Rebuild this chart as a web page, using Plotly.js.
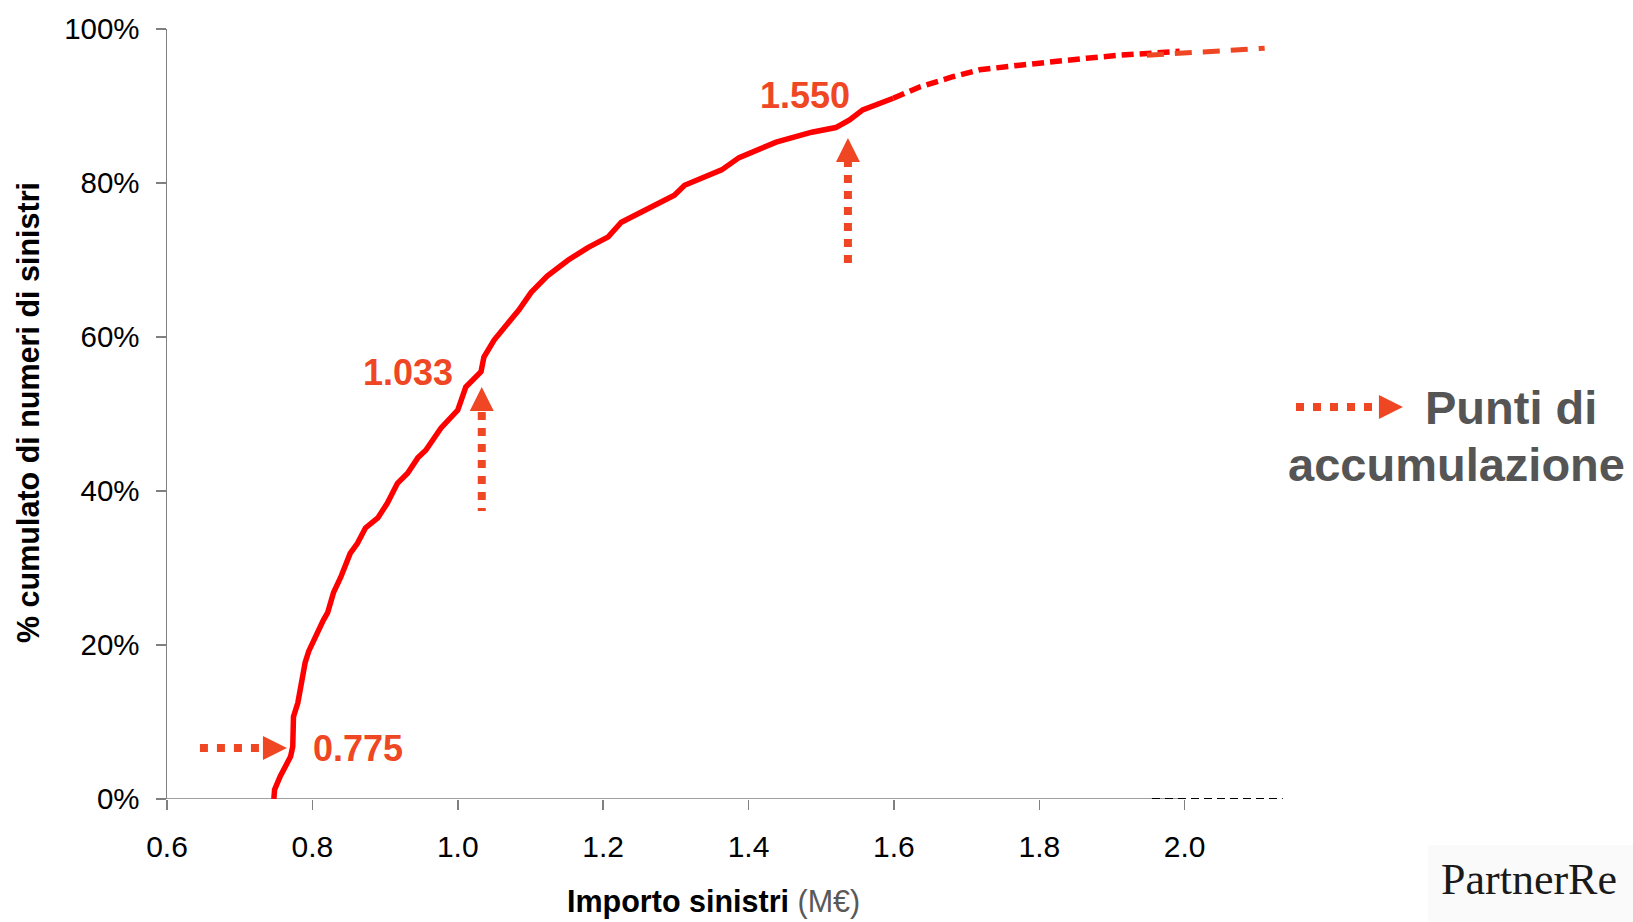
<!DOCTYPE html>
<html><head><meta charset="utf-8">
<script src="https://cdn.plot.ly/plotly-3.0.1.min.js"></script>
<style>html,body{margin:0;padding:0;background:#fff}#chart{width:1633px;height:922px}</style>
</head><body><div id="chart"></div>
<script>
// Cumulative distribution of claim amounts (M€) – main solid part
const claimAmount = [0.747,0.748,0.756,0.765,0.770,0.773,0.774,0.780,0.783,0.786,0.790,0.795,0.800,0.808,0.815,0.821,0.829,0.839,0.846,0.852,0.862,0.873,0.890,0.903,0.917,0.931,0.945,0.956,0.977,1.000,1.011,1.025,1.032,1.036,1.050,1.069,1.084,1.101,1.123,1.152,1.179,1.207,1.225,1.252,1.270,1.298,1.312,1.345,1.363,1.387,1.438,1.487,1.520,1.539,1.557,1.599];
const cumShare    = [0.000,0.012,0.030,0.044,0.055,0.068,0.107,0.125,0.142,0.160,0.177,0.192,0.203,0.219,0.232,0.242,0.268,0.288,0.305,0.319,0.332,0.352,0.365,0.384,0.410,0.423,0.443,0.453,0.482,0.505,0.535,0.548,0.555,0.574,0.596,0.618,0.635,0.658,0.679,0.700,0.716,0.730,0.749,0.762,0.771,0.784,0.797,0.810,0.817,0.833,0.853,0.866,0.872,0.882,0.895,0.910];
// sparse upper tail
const tailAmount = [1.599,1.636,1.681,1.718,1.773,1.819,1.865,1.911,1.956,1.993];
const tailShare  = [0.910,0.925,0.938,0.947,0.953,0.958,0.962,0.966,0.969,0.971];
// dashed extrapolation
const extAmount = [1.948,2.110];
const extShare  = [0.966,0.975];
// dashed baseline at 0%
const baseAmount = [1.955,2.135];
const baseShare  = [0,0];

const xTickVals = [0.6,0.8,1.0,1.2,1.4,1.6,1.8,2.0];
const xTickText = ['0.6','0.8','1.0','1.2','1.4','1.6','1.8','2.0'];
const yTickVals = [0,0.2,0.4,0.6,0.8,1.0];
const yTickText = ['0%','20%','40%','60%','80%','100%'];

const accumLabels = ['0.775','1.033','1.550'];

const FONT = 'Liberation Sans, Arial, sans-serif';
const ORANGE = '#EF4623';
const RED = '#FF0000';

const traces = [
  {x: claimAmount, y: cumShare, mode:'lines', line:{color:RED, width:5.5}, hoverinfo:'skip'},
  {x: tailAmount, y: tailShare, mode:'lines', line:{color:RED, width:5.5, dash:'12px,6px'}, hoverinfo:'skip'},
  {x: extAmount, y: extShare, mode:'lines', line:{color:ORANGE, width:5, dash:'17px,11px'}, hoverinfo:'skip'},
  {x: baseAmount, y: baseShare, mode:'lines', line:{color:'#000', width:2, dash:'8px,5px'}, hoverinfo:'skip'}
];

function upArrow(xv, yTip, yDotTop, yDotBot){
  return [
    {type:'line', xref:'x', yref:'y', x0:xv, x1:xv, y0:yDotTop, y1:yDotBot, line:{color:ORANGE, width:8, dash:'8px,8px'}},
    {type:'path', xref:'x', yref:'y', xsizemode:'pixel', ysizemode:'pixel', xanchor:xv, yanchor:yTip,
     path:'M 0 0 L -12 -24 L 12 -24 Z', fillcolor:ORANGE, line:{width:0}}
  ];
}
function rightArrow(xref, yref, xDotL, xDotR, xTip, yv){
  return [
    {type:'line', xref:xref, yref:yref, x0:xDotL, x1:xDotR, y0:yv, y1:yv, line:{color:ORANGE, width:8, dash:'8px,9px'}},
    {type:'path', xref:xref, yref:yref, xsizemode:'pixel', ysizemode:'pixel', xanchor:xTip, yanchor:yv,
     path:'M 0 0 L -24 12 L -24 -12 Z', fillcolor:ORANGE, line:{width:0}}
  ];
}

const shapes = [
  {type:'line', xref:'x', yref:'y', x0:0.6, x1:2.0, y0:0, y1:0, line:{color:'#808080', width:1.5}, layer:'below'},
  {type:'rect', xref:'paper', yref:'paper', x0:1.112, x1:1.3, y0:-0.06, y1:-0.2, fillcolor:'#FAFAFA', line:{width:0}, layer:'below'},
  ...rightArrow('x','y', 0.6453, 0.7320, 0.7650, 0.0662),
  ...upArrow(1.033, 0.535, 0.5234, 0.3740),
  ...upArrow(1.5367, 0.8584, 0.8312, 0.6961),
  ...rightArrow('paper','paper', 0.9956, 1.0700, 1.0899, 0.509)
];

const C = {xanchor:'center', yanchor:'middle', showarrow:false};
const annotations = [
  {...C, xref:'x', yref:'y', x:0.8627, y:0.0662, text:'<b>'+accumLabels[0]+'</b>', font:{family:FONT, size:36, color:ORANGE}},
  {...C, xref:'x', yref:'y', x:0.9315, y:0.5545, text:'<b>'+accumLabels[1]+'</b>', font:{family:FONT, size:36, color:ORANGE}},
  {...C, xref:'x', yref:'y', x:1.478, y:0.913, text:'<b>'+accumLabels[2]+'</b>', font:{family:FONT, size:36, color:ORANGE}},
  {...C, xref:'x', yref:'y', x:0.721, y:-0.0377, text:'0.75', font:{family:FONT, size:26, color:'#595959'}},
  {...C, xref:'paper', yref:'paper', x:1.1076, y:0.509, xanchor:'left', text:'<b>Punti di</b>', font:{family:FONT, size:47, color:'#555555'}},
  {...C, xref:'paper', yref:'paper', x:0.987, y:0.434, xanchor:'left', text:'<b>accumulazione</b>', font:{family:FONT, size:47, color:'#555555'}},
  {...C, xref:'paper', yref:'paper', x:0.4815, y:-0.133, text:'<b>Importo sinistri</b> <span style="color:#595959">(M€)</span>', font:{family:FONT, size:30.5, color:'#000'}},
  {...C, xref:'paper', yref:'paper', x:-0.1226, y:0.5026, textangle:-90, text:'<b>% cumulato di numeri di sinistri</b>', font:{family:FONT, size:30.5, color:'#000'}},
  {...C, xref:'paper', yref:'paper', x:1.201, y:-0.105, text:'PartnerRe', font:{family:'Liberation Serif, Times New Roman, serif', size:44, color:'#1a1a1a'}}
];

const layout = {
  width:1633, height:922,
  margin:{l:167, r:332, t:29, b:123, pad:0},
  paper_bgcolor:'#fff', plot_bgcolor:'#fff',
  showlegend:false,
  font:{family:FONT, color:'#000'},
  xaxis:{range:[0.6,2.16], tickvals:xTickVals, ticktext:xTickText, ticks:'outside', ticklen:10, tickwidth:1.5, tickcolor:'#808080',
         showline:false, showgrid:false, zeroline:false, tickfont:{family:FONT, size:30, color:'#000'}, ticklabelstandoff:11, automargin:false, fixedrange:true},
  yaxis:{range:[0,1], tickvals:yTickVals, ticktext:yTickText, ticks:'outside', ticklen:10, tickwidth:1.5, tickcolor:'#808080',
         showline:true, linecolor:'#808080', linewidth:1.5, showgrid:false, zeroline:false, tickfont:{family:FONT, size:29.5, color:'#000'}, ticklabelstandoff:10, automargin:false, fixedrange:true},
  shapes:shapes,
  annotations:annotations
};

Plotly.newPlot('chart', traces, layout, {displayModeBar:false, staticPlot:true});
</script></body></html>
